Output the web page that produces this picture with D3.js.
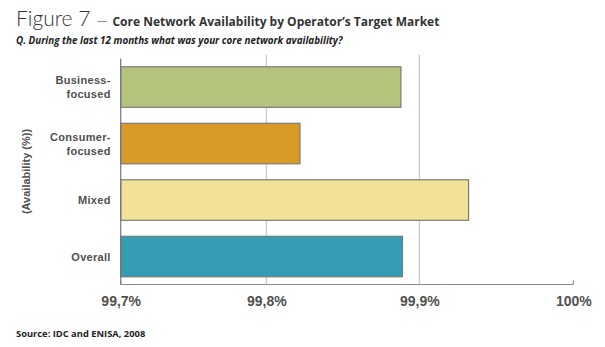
<!DOCTYPE html>
<html>
<head>
<meta charset="utf-8">
<script src="https://cdn.jsdelivr.net/npm/d3@7"></script>
<style>
  html, body { margin: 0; padding: 0; background: #fff; }
  svg { display: block; }
</style>
</head>
<body>
<script>
// Core network availability by operator's target market
const categories = ["Business-focused", "Consumer-focused", "Mixed", "Overall"];
const categoryLines = [["Business-", "focused"], ["Consumer-", "focused"], ["Mixed"], ["Overall"]];
const availability = [99.888, 99.822, 99.932, 99.889];
const barColors = ["#b5c47d", "#da9a26", "#f3e196", "#349db4"];
const tickValues = [99.7, 99.8, 99.9, 100];
const tickLabels = ["99,7%", "99,8%", "99,9%", "100%"];

const W = 605, H = 347;
const svg = d3.select("body").append("svg").attr("width", W).attr("height", H);

// The printed axis is not evenly spaced, so the scale follows each labelled tick
const x = d3.scaleLinear()
  .domain(tickValues)
  .range([120.7, 266.3, 419.3, 573.3]);

const y = d3.scaleBand()
  .domain(categories)
  .range([58.8, 284.8])
  .paddingInner(0.283)
  .paddingOuter(0.1415);

// Title block
const title = svg.append("text").attr("x", 16).attr("y", 26).attr("fill", "#333");
title.append("tspan")
  .attr("font-family", "Lato, 'Open Sans', sans-serif")
  .attr("font-weight", 300)
  .attr("font-size", 21)
  .text("Figure 7");
title.append("tspan")
  .attr("font-family", "Lato, sans-serif")
  .attr("font-weight", 300)
  .attr("font-size", 14)
  .attr("dx", 6)
  .text("—");
title.append("tspan")
  .attr("font-family", "'Open Sans', sans-serif")
  .attr("font-weight", 700)
  .attr("font-size", 12)
  .attr("dx", 5)
  .text("Core Network Availability by Operator’s Target Market");

svg.append("text")
  .attr("x", 16).attr("y", 44)
  .attr("font-family", "'Open Sans', sans-serif")
  .attr("font-weight", 700)
  .attr("font-style", "italic")
  .attr("font-size", 9.85)
  .attr("fill", "#222")
  .text("Q. During the last 12 months what was your core network availability?");

// Vertical gridlines
svg.append("g")
  .selectAll("line")
  .data(tickValues.slice(1, 3))
  .join("line")
  .attr("x1", d => x(d)).attr("x2", d => x(d))
  .attr("y1", 55).attr("y2", 284)
  .attr("stroke", "#bdbdbd").attr("stroke-width", 1);

// Bars
svg.append("g")
  .selectAll("rect")
  .data(categories)
  .join("rect")
  .attr("x", x(99.7))
  .attr("y", d => y(d))
  .attr("width", (d, i) => x(availability[i]) - x(99.7))
  .attr("height", y.bandwidth())
  .attr("fill", (d, i) => barColors[i])
  .attr("stroke", "#7a7a7a")
  .attr("stroke-width", 1.2);

// Bottom axis
const xAxis = d3.axisBottom(x)
  .tickValues(tickValues)
  .tickSize(0)
  .tickPadding(12)
  .tickFormat((d, i) => tickLabels[i]);

const gx = svg.append("g").attr("transform", "translate(0,284.5)").call(xAxis);
gx.select(".domain").remove();
gx.selectAll("text")
  .attr("font-family", "'Liberation Sans', Arial, sans-serif")
  .attr("font-weight", 700)
  .attr("font-size", 14)
  .attr("fill", "#505050");
gx.append("line")
  .attr("x1", x(99.7)).attr("x2", x(100))
  .attr("stroke", "#8a8a8a").attr("stroke-width", 1.2);
gx.selectAll(".end-tick")
  .data([99.7, 100])
  .join("line")
  .attr("class", "end-tick")
  .attr("x1", d => x(d)).attr("x2", d => x(d))
  .attr("y1", 0).attr("y2", -4)
  .attr("stroke", "#8a8a8a").attr("stroke-width", 1.2);

// Left axis with two-line category labels
const gy = svg.append("g").attr("transform", `translate(${x(99.7)},0)`);
gy.append("line")
  .attr("y1", 58.5).attr("y2", 284.5)
  .attr("stroke", "#777").attr("stroke-width", 1.2);

const labels = gy.selectAll("text")
  .data(categories)
  .join("text")
  .attr("text-anchor", "end")
  .attr("font-family", "'Liberation Sans', Arial, sans-serif")
  .attr("font-weight", 700)
  .attr("font-size", 11)
  .attr("letter-spacing", 0.3)
  .attr("fill", "#505050");
labels.each(function(d, i) {
  const lines = categoryLines[i];
  const cy = y(d) + y.bandwidth() / 2;
  const lh = 14;
  const first = cy - (lines.length - 1) * lh / 2 + 4;
  d3.select(this).selectAll("tspan")
    .data(lines)
    .join("tspan")
    .attr("x", -10)
    .attr("y", (t, j) => first + j * lh)
    .text(t => t);
});

// Axis title
svg.append("text")
  .attr("transform", `translate(30,${(58.5 + 284.5) / 2}) rotate(-90)`)
  .attr("text-anchor", "middle")
  .attr("font-family", "'Liberation Sans', Arial, sans-serif")
  .attr("font-weight", 700)
  .attr("font-size", 11)
  .attr("fill", "#505050")
  .text("(Availability (%))");

// Source note
svg.append("text")
  .attr("x", 16).attr("y", 337)
  .attr("font-family", "'Open Sans', sans-serif")
  .attr("font-weight", 700)
  .attr("font-size", 9.35)
  .attr("fill", "#222")
  .text("Source: IDC and ENISA, 2008");
</script>
</body>
</html>
